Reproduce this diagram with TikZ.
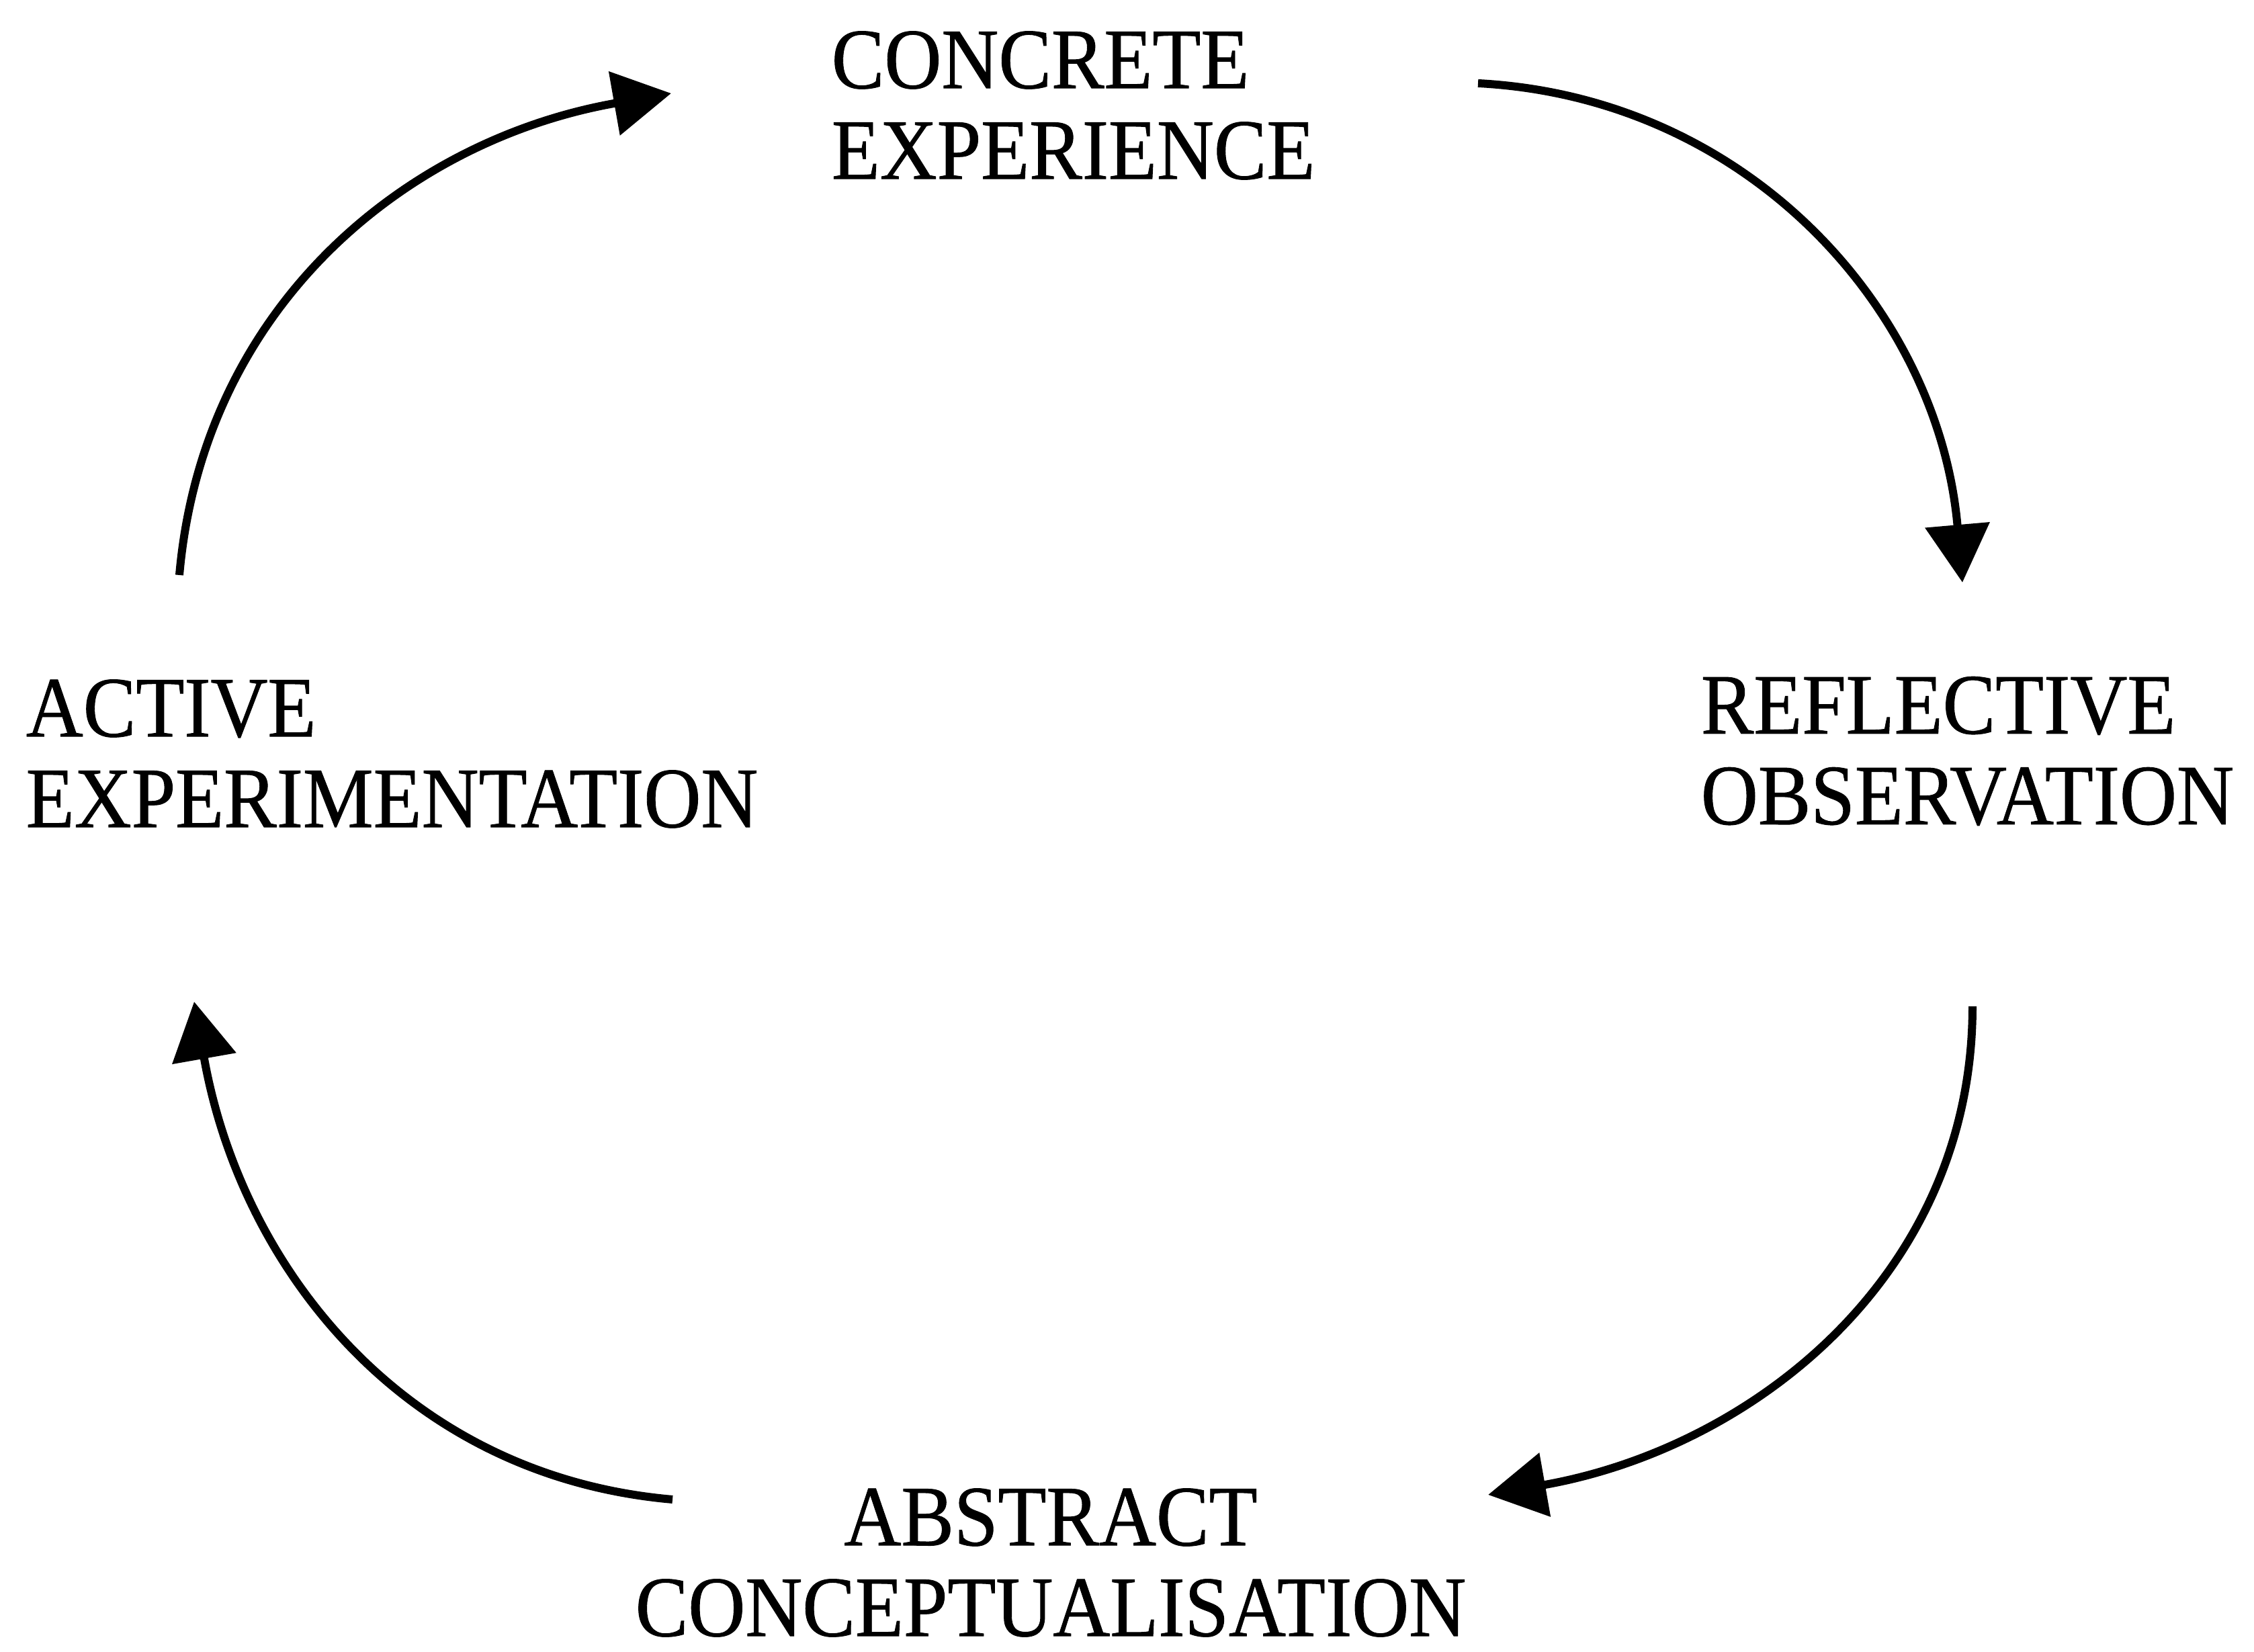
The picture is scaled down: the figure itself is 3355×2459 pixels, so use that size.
\documentclass[tikz,border=0pt]{standalone}
\usepackage{fontspec}
\setmainfont{Liberation Serif}[FakeStretch=0.92,FakeBold=0.7]
\usetikzlibrary{arrows.meta,arrows}
\usetikzlibrary{positioning}

\begin{document}
\begin{tikzpicture}[x=0.25pt,y=0.25pt]
        \useasboundingbox (0,0) rectangle (3355,2459);

        \begin{scope}[every node/.style={inner sep=0pt,align=left,
            font=\fontsize{32pt}{33.75pt}\selectfont}]
            \node[anchor=west] (CE) at (1237,2302) {CONCRETE\\EXPERIENCE};
            \node[anchor=west] (RO) at (2531,1341) {REFLECTIVE\\OBSERVATION};
            \node[align=center] (AC) at (1564,133) {ABSTRACT\\CONCEPTUALISATION};
            \node[anchor=west] (AE) at (38,1337) {ACTIVE\\EXPERIMENTATION};
        \end{scope}

        % ends of the four arcs
        \coordinate (ce1) at (2200,2335);
        \coordinate (ro0) at (2921,1592);
        \coordinate (ro1) at (2936,961);
        \coordinate (ac0) at (2215,234);
        \coordinate (ac1) at (1001,227);
        \coordinate (ae0) at (289,968);
        \coordinate (ae1) at (267,1603);
        \coordinate (ce0) at (999,2320);

        \begin{scope}[>={Triangle[length=21.5pt,width=23.5pt]},
            line width=3pt]
            \draw [->] (ce1) to[out=-3,in=95] (ro0);
            \draw [->] (ro1) to[out=-90,in=10] (ac0);
            \draw [->] (ac1) to[out=175,in=-80] (ae0);
            \draw [->] (ae1) to[out=85,in=190] (ce0);
        \end{scope}
    \end{tikzpicture}
\end{document}
